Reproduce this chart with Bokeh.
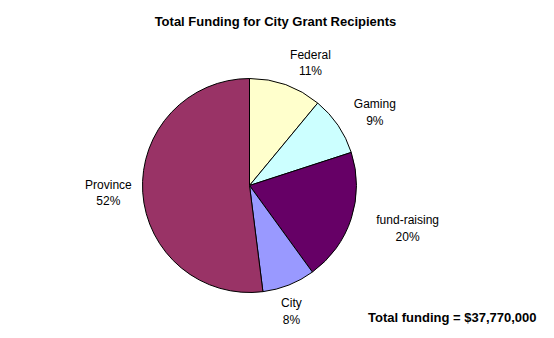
import math
from bokeh.plotting import figure
from bokeh.models import ColumnDataSource, Range1d
from bokeh.core.properties import value
from bokeh.embed import file_html
from bokeh.resources import INLINE

# ---- data ----
title = "Total Funding for City Grant Recipients"
categories = ["Federal", "Gaming", "fund-raising", "City", "Province"]
percent = [11, 9, 20, 8, 52]
colors = ["#FFFFCC", "#CCFFFF", "#660066", "#9999FF", "#993366"]
total_note = "Total funding = $37,770,000"

# ---- layout ----
W, H = 554, 338
cx_px, cy_px = 249, 185
R = 107
gap = 12
line_gap = 16.5
char_w = 5.6
label_nudge_x = [14, 13, 13, -6, 0]
label_nudge_y = [5, 3, 1, 0, -1]

def to_y(py):
    return H - py

total = float(sum(percent))
starts, ends, mids = [], [], []
cum = 0.0
for v in percent:
    f0 = cum / total
    cum += v
    f1 = cum / total
    # clockwise from 12 o'clock -> bokeh ccw angles from +x
    starts.append(math.pi / 2 - 2 * math.pi * f1)
    ends.append(math.pi / 2 - 2 * math.pi * f0)
    mids.append(2 * math.pi * (f0 + f1) / 2)

src = ColumnDataSource(dict(
    x=[cx_px] * len(percent), y=[to_y(cy_px)] * len(percent),
    start=starts, end=ends, color=colors))

p = figure(width=W, height=H, output_backend="svg", toolbar_location=None,
           x_range=Range1d(0, W), y_range=Range1d(0, H),
           min_border=0, outline_line_color=None)
p.axis.visible = False
p.grid.visible = False
p.background_fill_color = "white"
p.border_fill_color = "white"

p.wedge(x="x", y="y", radius=R, start_angle="start", end_angle="end",
        fill_color="color", line_color="black", line_width=1, source=src)

# labels
name_x, name_y, pct_x, pct_y, pct_txt = [], [], [], [], []
for i, (name, v, th) in enumerate(zip(categories, percent, mids)):
    dx, dy = math.sin(th), -math.cos(th)
    w = len(name) * char_w
    h = 2 * line_gap
    bx = cx_px + (R + gap) * dx + dx * w / 2 + label_nudge_x[i]
    by = cy_px + (R + gap) * dy + dy * h / 2 + label_nudge_y[i]
    name_x.append(bx); name_y.append(to_y(by - line_gap / 2))
    pct_x.append(bx); pct_y.append(to_y(by + line_gap / 2))
    pct_txt.append(f"{v}%")

font = value("Liberation Sans")
p.text(x=name_x, y=name_y, text=categories, text_font=font,
       text_font_size="12px", text_align="center", text_baseline="middle",
       text_color="black")
p.text(x=pct_x, y=pct_y, text=pct_txt, text_font=font,
       text_font_size="12px", text_align="center", text_baseline="middle",
       text_color="black")

p.text(x=[275], y=[to_y(21)], text=[title], text_font=font,
       text_font_size="13px", text_font_style="bold", text_align="center",
       text_baseline="middle", text_color="black")
p.text(x=[536], y=[to_y(317)], text=[total_note], text_font=font,
       text_font_size="13px", text_font_style="bold", text_align="right",
       text_baseline="middle", text_color="black")

open("out.html", "w").write(file_html(p, INLINE))
